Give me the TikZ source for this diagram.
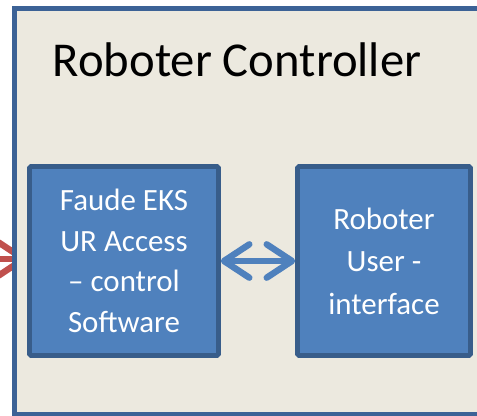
\documentclass[tikz,border=0pt]{standalone}
\usepackage{fontspec}
\setmainfont{Carlito}
\usepackage{tikz}
\usetikzlibrary{arrows.meta}
\definecolor{frameline}{RGB}{60,98,150}
\definecolor{framefill}{RGB}{236,233,223}
\definecolor{boxfill}{RGB}{79,129,189}
\definecolor{boxline}{RGB}{56,93,138}
\definecolor{extred}{RGB}{192,80,77}

\begin{document}
\begin{tikzpicture}[x=0.75pt,y=0.75pt,yscale=-1,xscale=1,
  softbox/.style={draw=boxline, fill=boxfill, line width=3.4pt, rounded corners=1pt, text=white, align=center,
    font=\fontsize{23.2}{30.5}\selectfont, minimum height=141.75pt, inner sep=0pt},
  link/.style={line width=4.8pt, line cap=round,
    {Straight Barb[length=19pt,width=25pt,round]}-{Straight Barb[length=19pt,width=25pt,round]}}
]
\clip (0,0) rectangle (477,416);

%Straight Lines: incoming arrow, partly hidden
\coordinate (extsrc) at (-80,259);
\coordinate (extdst) at (27,259);
\draw [link, color=extred] (extsrc) -- (extdst);

%Shape: Rectangle (controller frame)
\draw [draw=frameline, fill=framefill, line width=3.75pt] (14.5,9) rectangle (520,414.5);

% Text Node
\node [anchor=base west, font=\fontsize{36.5}{42}\selectfont] (title) at (48,77) {Roboter Controller};

%Shape: Rectangle
\node [softbox, minimum width=141.75pt] (ctrl) at (124,261) {Faude EKS\\UR Access\\– control\\Software};
%Shape: Rectangle
\node [softbox, minimum width=129.75pt, font=\fontsize{23.2}{31.8}\selectfont] (ui) at (384,261) {Roboter\\User -\\interface};

%Straight Lines
\draw [link, color=boxfill] (ctrl.east) -- (ui.west);

\end{tikzpicture}
\end{document}
